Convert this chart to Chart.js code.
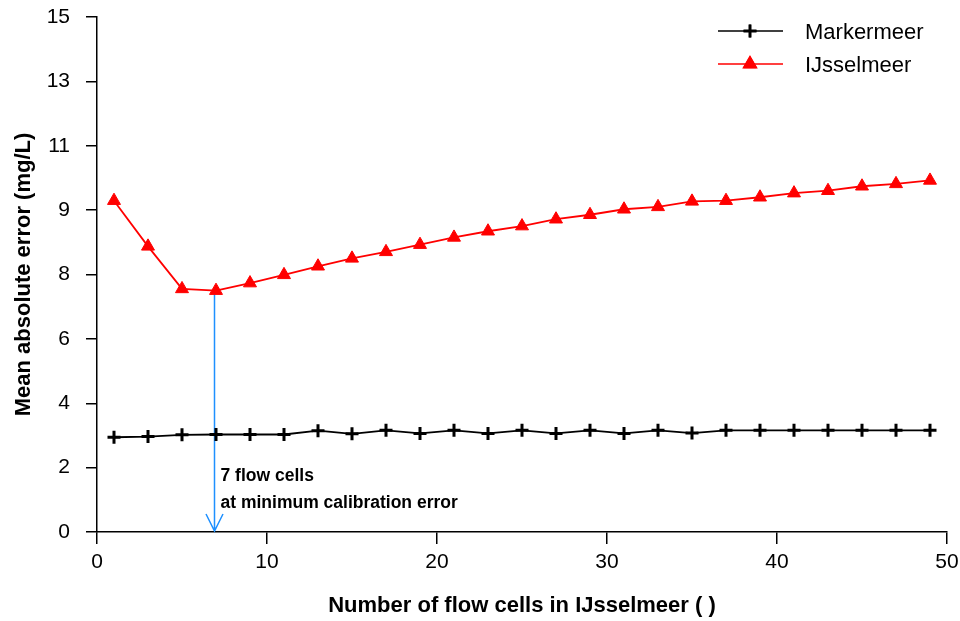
<!DOCTYPE html>
<html>
<head>
<meta charset="utf-8">
<title>Mean absolute error vs number of flow cells</title>
<script src="https://cdn.jsdelivr.net/npm/chart.js@4.4.1/dist/chart.umd.min.js"></script>
<style>
  html, body { margin: 0; padding: 0; background: #fff; }
  #wrap { width: 960px; height: 621px; position: relative; }
</style>
</head>
<body>
<div id="wrap"><canvas id="errorChart"></canvas></div>
<script>
  // number of flow cells used for IJsselmeer
  const flowCells = [1, 3, 5, 7, 9, 11, 13, 15, 17, 19, 21, 23, 25, 27, 29, 31, 33, 35, 37, 39, 41, 43, 45, 47, 49];

  // mean absolute error (mg/L) per lake
  const markermeer = [2.76, 2.78, 2.83, 2.84, 2.84, 2.84, 2.95, 2.86, 2.96, 2.87, 2.96, 2.87, 2.96,
                      2.87, 2.96, 2.87, 2.96, 2.88, 2.96, 2.96, 2.96, 2.96, 2.96, 2.96, 2.96];
  const ijsselmeer = [9.65, 8.32, 7.08, 7.03, 7.25, 7.49, 7.74, 7.97, 8.16, 8.37, 8.58, 8.76, 8.91,
                      9.11, 9.24, 9.40, 9.47, 9.63, 9.65, 9.75, 9.87, 9.94, 10.07, 10.14, 10.24];

  const seriesNames = ["Markermeer", "IJsselmeer"];

  // calibration optimum
  const bestCells = 7;
  const bestNote = ["7 flow cells", "at minimum calibration error"];

  const yMin = 0, yMax = 15, yStep = 1.875;
  const xMin = 0, xMax = 50, xStep = 10;

  const FONT = "'Liberation Sans', Arial, Helvetica, sans-serif";

  const toPoints = vals => flowCells.map((c, i) => ({ x: c, y: vals[i] }));

  // arrow from the IJsselmeer minimum down to the x axis, plus its note
  const arrowPlugin = {
    id: 'arrowNote',
    beforeDatasetsDraw(chart) {
      const { ctx, scales: { x, y } } = chart;
      const idx = flowCells.indexOf(bestCells);
      const px = x.getPixelForValue(bestCells) - 1.5;
      const top = y.getPixelForValue(ijsselmeer[idx]);
      const bottom = y.getPixelForValue(0) - 1;
      ctx.save();
      ctx.strokeStyle = '#1E90FF';
      ctx.lineWidth = 1.5;
      ctx.beginPath();
      ctx.moveTo(px, top);
      ctx.lineTo(px, bottom);
      ctx.moveTo(px - 8.5, bottom - 17);
      ctx.lineTo(px, bottom);
      ctx.lineTo(px + 8.5, bottom - 17);
      ctx.stroke();

      ctx.fillStyle = '#000';
      ctx.font = 'bold 17.5px ' + FONT;
      ctx.textBaseline = 'middle';
      ctx.textAlign = 'left';
      ctx.fillText(bestNote[0], px + 6, y.getPixelForValue(1.64));
      ctx.fillText(bestNote[1], px + 6, y.getPixelForValue(0.85));
      ctx.restore();
    }
  };

  // legend with line + marker samples, top right
  const legendPlugin = {
    id: 'lineLegend',
    afterDraw(chart) {
      const { ctx } = chart;
      const rows = [
        { y: 31, ds: chart.data.datasets[0] },
        { y: 64, ds: chart.data.datasets[1] }
      ];
      ctx.save();
      rows.forEach(r => {
        ctx.strokeStyle = r.ds.borderColor;
        ctx.lineWidth = 1.5;
        ctx.beginPath();
        ctx.moveTo(718, r.y);
        ctx.lineTo(783, r.y);
        ctx.stroke();
        Chart.helpers.drawPoint(ctx, {
          pointStyle: r.ds.pointStyle,
          radius: r.ds.pointRadius,
          borderWidth: r.ds.pointBorderWidth
        }, 750, r.y);
        ctx.fillStyle = r.ds.pointBackgroundColor;
        ctx.strokeStyle = r.ds.borderColor;
        ctx.lineWidth = r.ds.pointBorderWidth;
        if (r.ds.pointStyle === 'triangle') ctx.fill();
        ctx.stroke();

        ctx.fillStyle = '#000';
        ctx.font = '22px ' + FONT;
        ctx.textBaseline = 'middle';
        ctx.textAlign = 'left';
        ctx.fillText(r.ds.label, 805, r.y + 2);
      });
      ctx.restore();
    }
  };

  const ctx = document.getElementById('errorChart').getContext('2d');
  const errorChart = new Chart(ctx, {
    type: 'line',
    data: {
      datasets: [{
        label: seriesNames[0],
        data: toPoints(markermeer),
        borderColor: '#000',
        borderWidth: 1.8,
        pointStyle: 'cross',
        pointRadius: 6.5,
        pointBorderWidth: 3,
        pointBorderColor: '#000',
        pointBackgroundColor: '#000',
        tension: 0
      }, {
        label: seriesNames[1],
        data: toPoints(ijsselmeer),
        borderColor: '#FF0000',
        borderWidth: 1.8,
        pointStyle: 'triangle',
        pointRadius: 7.5,
        pointBorderWidth: 1,
        pointBorderColor: '#FF0000',
        pointBackgroundColor: '#FF0000',
        tension: 0
      }]
    },
    options: {
      responsive: true,
      maintainAspectRatio: false,
      animation: false,
      layout: { padding: { left: 0, top: 17, right: 13, bottom: 0 } },
      plugins: {
        legend: { display: false },
        tooltip: { enabled: false }
      },
      scales: {
        x: {
          type: 'linear',
          min: xMin,
          max: xMax,
          grid: { display: true, drawOnChartArea: false, drawTicks: true, tickLength: 12, color: '#000', lineWidth: 1.5 },
          border: { display: true, color: '#000', width: 1.5 },
          ticks: { stepSize: xStep, color: '#000', padding: 6, font: { family: FONT, size: 21 }, maxRotation: 0 },
          title: {
            display: true,
            text: 'Number of flow cells in IJsselmeer ( )',
            color: '#000',
            font: { family: FONT, size: 22, weight: 'bold' },
            padding: { top: 0, bottom: 2 }
          },
          afterFit(scale) {
            scale.height = 89;
            scale.paddingLeft = 0;
            scale.paddingRight = 0;
          }
        },
        y: {
          min: yMin,
          max: yMax,
          grid: { display: true, drawOnChartArea: false, drawTicks: true, tickLength: 11, color: '#000', lineWidth: 1.5 },
          border: { display: true, color: '#000', width: 1.5 },
          ticks: {
            stepSize: yStep,
            color: '#000',
            padding: 16,
            font: { family: FONT, size: 21 },
            callback: v => Math.round(v)
          },
          title: {
            display: true,
            text: 'Mean absolute error (mg/L)',
            color: '#000',
            font: { family: FONT, size: 22, weight: 'bold' },
            padding: { top: 11, bottom: 0 }
          },
          afterFit(scale) {
            scale.width = 97;
            scale.paddingTop = 0;
            scale.paddingBottom = 0;
          }
        }
      }
    },
    plugins: [arrowPlugin, legendPlugin]
  });
</script>
</body>
</html>
